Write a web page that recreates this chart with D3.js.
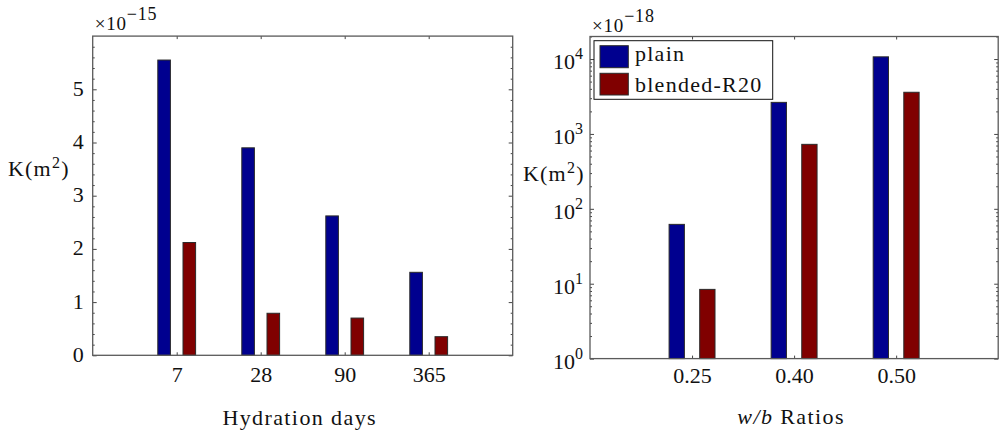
<!DOCTYPE html>
<html>
<head>
<meta charset="utf-8">
<script src="https://cdn.jsdelivr.net/npm/d3@7"></script>
<style>
  html, body { margin: 0; padding: 0; background: #fff; }
  svg { display: block; }
  text { font-family: "Liberation Serif", "Times New Roman", serif; fill: #111; }
</style>
</head>
<body>
<svg id="chart" width="1000" height="434"></svg>
<script>
// ---- data ----
const seriesNames = ["plain", "blended-R20"];
const seriesColors = ["#00008F", "#800000"];

const daysCategories = ["7", "28", "90", "365"];
const daysPlain = [5.55, 3.90, 2.62, 1.56];      // x10^-15 m^2
const daysBlended = [2.12, 0.79, 0.70, 0.35];    // x10^-15 m^2
const daysYTicks = [0, 1, 2, 3, 4, 5];
const daysYMinor = [0.2,0.4,0.6,0.8,1.2,1.4,1.6,1.8,2.2,2.4,2.6,2.8,3.2,3.4,3.6,3.8,4.2,4.4,4.6,4.8,5.2,5.4,5.6,5.8];

const ratioCategories = ["0.25", "0.40", "0.50"];
const ratioPlain = [62, 2640, 10700];            // x10^-18 m^2
const ratioBlended = [8.4, 726, 3600];           // x10^-18 m^2
const ratioYTicks = [1, 10, 100, 1000, 10000];
const ratioYExponents = ["0", "1", "2", "3", "4"];

// ---- drawing ----
const svg = d3.select("#chart");
const barW = 0.15;

function drawPanel(opt) {
  const g = svg.append("g");
  const n = opt.cats.length;
  const x = d3.scaleLinear().domain([0, n + 1]).range([opt.x0, opt.x1]);
  const y = opt.y;
  const idx = d3.range(1, n + 1);

  // bars
  [opt.plain, opt.blended].forEach((vals, s) => {
    const off = s === 0 ? -barW : barW;
    g.append("g").selectAll("rect").data(vals).join("rect")
      .attr("x", (d, i) => x(i + 1 + off - barW / 2))
      .attr("width", x(barW) - x(0))
      .attr("y", d => y(d))
      .attr("height", d => y(opt.base) - y(d))
      .attr("fill", seriesColors[s])
      .attr("stroke", "#2a2a2a")
      .attr("stroke-width", 1);
  });

  // axes (inward ticks)
  const axStyle = sel => {
    sel.select(".domain").remove();
    sel.selectAll("line").attr("stroke", "#444").attr("stroke-width", 1);
  };
  const xb = g.append("g").attr("transform", `translate(0,${opt.yBottom})`)
    .call(d3.axisBottom(x).tickValues(idx).tickFormat(i => opt.cats[i - 1]).tickSizeInner(-3).tickSizeOuter(0));
  axStyle(xb);
  xb.selectAll("text").attr("y", opt.xLabelY - opt.yBottom).attr("dy", 0)
    .attr("font-size", 22).attr("fill", "#111")
    .attr("font-family", "Liberation Serif");
  const xt = g.append("g").attr("transform", `translate(0,${opt.yTop})`)
    .call(d3.axisTop(x).tickValues(idx).tickFormat("").tickSizeInner(-3).tickSizeOuter(0));
  axStyle(xt);

  const yl = g.append("g").attr("transform", `translate(${opt.x0},0)`)
    .call(d3.axisLeft(y).tickValues(opt.yTicks).tickFormat(opt.simpleLabels ? d3.format("d") : "").tickSizeInner(-4).tickSizeOuter(0).tickPadding(9));
  axStyle(yl);
  yl.selectAll("text").attr("dy", 6).attr("font-size", 22).attr("fill", "#111")
    .attr("font-family", "Liberation Serif");
  const ylm = g.append("g").attr("transform", `translate(${opt.x0},0)`)
    .call(d3.axisLeft(y).tickValues(opt.yMinor).tickFormat("").tickSizeInner(-2).tickSizeOuter(0));
  axStyle(ylm);
  const yr = g.append("g").attr("transform", `translate(${opt.x1},0)`)
    .call(d3.axisRight(y).tickValues(opt.yTicks).tickFormat("").tickSizeInner(-4).tickSizeOuter(0));
  axStyle(yr);
  const yrm = g.append("g").attr("transform", `translate(${opt.x1},0)`)
    .call(d3.axisRight(y).tickValues(opt.yMinor).tickFormat("").tickSizeInner(-2).tickSizeOuter(0));
  axStyle(yrm);

  if (!opt.simpleLabels) {
    const t = g.append("g").selectAll("text").data(opt.yTicks).join("text")
      .attr("x", opt.x0 - 7)
      .attr("y", d => y(d) + 10)
      .attr("text-anchor", "end")
      .attr("font-size", 22);
    t.append("tspan").text("10");
    t.append("tspan").attr("dy", -10).attr("font-size", 16).text((d, i) => opt.exps[i]);
  }

  // frame
  g.append("rect").attr("x", opt.x0).attr("y", opt.yTop)
    .attr("width", opt.x1 - opt.x0).attr("height", opt.yBottom - opt.yTop)
    .attr("fill", "none").attr("stroke", "#5a5a5a").attr("stroke-width", 1.3);

  // multiplier
  const m = g.append("text").attr("x", opt.x0 + 2).attr("y", opt.multY)
    .attr("font-size", 19).attr("letter-spacing", 0.8);
  m.append("tspan").text("\u00d710");
  m.append("tspan").attr("dy", -10).attr("font-size", 18).text(opt.multExp);

  // y title
  const yt = g.append("text").attr("x", opt.yTitleX).attr("y", opt.yTitleY)
    .attr("font-size", 22).attr("letter-spacing", 1.2);
  yt.append("tspan").text("K(m");
  yt.append("tspan").attr("dy", -8).attr("font-size", 16).text("2");
  yt.append("tspan").attr("dy", 8).text(")");

  // x title
  const xtt = g.append("text").attr("x", (opt.x0 + opt.x1) / 2 - 3).attr("y", opt.xTitleY)
    .attr("text-anchor", "middle").attr("font-size", 22).attr("letter-spacing", 1.4);
  opt.xTitle(xtt);
  return {x, y};
}

// left panel
drawPanel({
  x0: 92.7, x1: 512.7, yTop: 36.1, yBottom: 355.3,
  cats: daysCategories, plain: daysPlain, blended: daysBlended,
  y: d3.scaleLinear().domain([0, 6]).range([355.3, 36.1]),
  base: 0,
  yTicks: daysYTicks, yMinor: daysYMinor, simpleLabels: true,
  xLabelY: 382.5, multY: 30, multExp: "\u221215",
  yTitleX: 8, yTitleY: 176,
  xTitleY: 425,
  xTitle: t => t.text("Hydration days")
});

// right panel
const ratioMinor = [];
for (let d = 0; d <= 4; d++) for (let k = 2; k <= 9; k++) { const v = k * Math.pow(10, d); if (v <= 20000) ratioMinor.push(v); }
drawPanel({
  x0: 590, x1: 998.2, yTop: 36.5, yBottom: 358.6,
  cats: ratioCategories, plain: ratioPlain, blended: ratioBlended,
  y: d3.scaleLog().domain([1, 20000]).range([358.6, 36.5]),
  base: 1,
  yTicks: ratioYTicks, yMinor: ratioMinor, simpleLabels: false, exps: ratioYExponents,
  xLabelY: 382.7, multY: 32.3, multExp: "\u221218",
  yTitleX: 523, yTitleY: 181,
  xTitleY: 424,
  xTitle: t => { t.append("tspan").attr("font-style", "italic").text("w/b"); t.append("tspan").text(" Ratios"); }
});

// legend
const lg = svg.append("g");
lg.append("rect").attr("x", 594).attr("y", 40.7).attr("width", 178.7).attr("height", 58.6)
  .attr("fill", "#fff").attr("stroke", "#111").attr("stroke-width", 1);
const legendRows = [{y: 45.7, h: 22}, {y: 73.3, h: 21.7}];
seriesNames.forEach((name, i) => {
  lg.append("rect").attr("x", 600).attr("y", legendRows[i].y).attr("width", 28.3).attr("height", legendRows[i].h)
    .attr("fill", seriesColors[i]).attr("stroke", "#2a2a2a").attr("stroke-width", 1);
  lg.append("text").attr("x", 635).attr("y", i === 0 ? 61 : 91.7)
    .attr("font-size", 22).attr("letter-spacing", 1.25).text(name);
});
</script>
</body>
</html>
